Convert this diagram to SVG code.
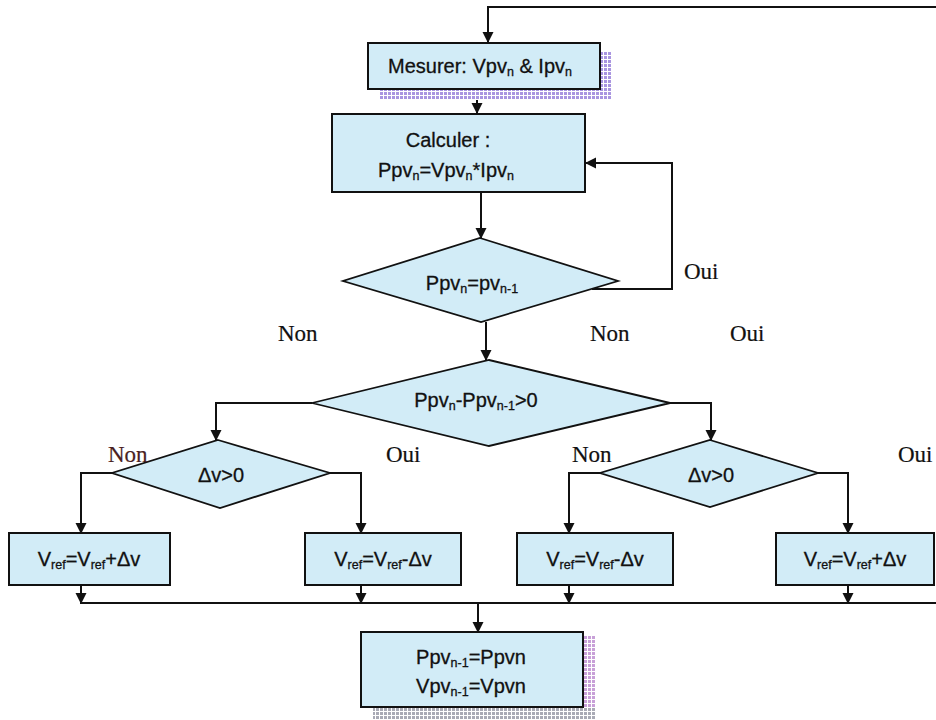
<svg xmlns="http://www.w3.org/2000/svg" width="936" height="720" viewBox="0 0 936 720">
  <style>
    .box { fill: #d2ecf7; stroke: #111; stroke-width: 2; }
    .dia { fill: #d2ecf7; stroke: #111; stroke-width: 1.8; }
    .t { font-family: "Liberation Sans", Arial, sans-serif; font-size: 20px; fill: #111; text-anchor: middle; stroke: #111; stroke-width: 0.3; }
    .lbl { font-family: "Liberation Serif", "Times New Roman", serif; font-size: 23px; fill: #111; stroke: #111; stroke-width: 0.2; }
    .lbl.red { fill: #4a1f22; stroke: #4a1f22; }
    .sub { font-size: 12.5px; }
    .wire { fill: none; stroke: #111; stroke-width: 2; }
  </style>
  <defs>
    <marker id="arr" markerWidth="12" markerHeight="12" refX="10" refY="6" orient="auto" markerUnits="userSpaceOnUse">
      <path d="M0,0.5 L11,6 L0,11.5 Z" fill="#111"/>
    </marker>
    <pattern id="gridPurple" width="4" height="4" patternUnits="userSpaceOnUse">
      <rect width="4" height="4" fill="#ffffff"/>
      <rect width="3" height="3" fill="#a995e0"/>
    </pattern>
    <pattern id="gridGrey" width="4" height="4" patternUnits="userSpaceOnUse">
      <rect width="4" height="4" fill="#ffffff"/>
      <rect width="3" height="3" fill="#a9aab5"/>
    </pattern>
    <pattern id="gridPink" width="4" height="4" patternUnits="userSpaceOnUse">
      <rect width="4" height="4" fill="#ffffff"/>
      <rect width="3" height="3" fill="#c8a0d8"/>
    </pattern>
  </defs>

  <!-- connectors -->
  <g id="connectors">
    <path class="wire" d="M936,7 H488 V42" marker-end="url(#arr)"/>
    <path class="wire" d="M477,88 V113" marker-end="url(#arr)"/>
    <path class="wire" d="M481,192 V238" marker-end="url(#arr)"/>
    <path class="wire" d="M592,289 H672 V163 H586" marker-end="url(#arr)"/>
    <path class="wire" d="M486,322 V360" marker-end="url(#arr)"/>
    <path class="wire" d="M312,403 H216 V440" marker-end="url(#arr)"/>
    <path class="wire" d="M670,403 H711 V440" marker-end="url(#arr)"/>
    <path class="wire" d="M112,473 H81 V533" marker-end="url(#arr)"/>
    <path class="wire" d="M330,473 H361 V533" marker-end="url(#arr)"/>
    <path class="wire" d="M600,473 H569 V533" marker-end="url(#arr)"/>
    <path class="wire" d="M818,473 H848 V533" marker-end="url(#arr)"/>
    <path class="wire" d="M81,585 V603" marker-end="url(#arr)"/>
    <path class="wire" d="M361,585 V603" marker-end="url(#arr)"/>
    <path class="wire" d="M569,585 V603" marker-end="url(#arr)"/>
    <path class="wire" d="M848,585 V603" marker-end="url(#arr)"/>
    <path class="wire" d="M80,603 H936"/>
    <path class="wire" d="M478,603 V632" marker-end="url(#arr)"/>
  </g>

  <!-- measurement step -->
  <g id="mesurer">
    <rect x="600" y="52" width="11" height="48" fill="url(#gridPurple)"/>
    <rect x="380" y="89" width="231" height="11" fill="url(#gridPurple)"/>
    <rect class="box" x="368" y="43" width="232" height="46"/>
    <text class="t" x="480" y="73">Mesurer: Vpv<tspan class="sub" dy="3">n</tspan><tspan dy="-3"> &amp; Ipv</tspan><tspan class="sub" dy="3">n</tspan></text>
  </g>

  <!-- power computation -->
  <g id="calculer">
    <rect class="box" x="332" y="114" width="253" height="78"/>
    <text class="t" x="448" y="147">Calculer :</text>
    <text class="t" x="446" y="177">Ppv<tspan class="sub" dy="3">n</tspan><tspan dy="-3">=Vpv</tspan><tspan class="sub" dy="3">n</tspan><tspan dy="-3">*Ipv</tspan><tspan class="sub" dy="3">n</tspan></text>
  </g>

  <!-- test: power unchanged -->
  <g id="test-egal">
    <polygon class="dia" points="480,238 618,281 481,322 343,281"/>
    <text class="t" x="472" y="290">Ppv<tspan class="sub" dy="3">n</tspan><tspan dy="-3">=pv</tspan><tspan class="sub" dy="3">n-1</tspan></text>
  </g>

  <!-- test: power increase -->
  <g id="test-dp">
    <polygon class="dia" points="489,360 670,403 489,446 312,403"/>
    <text class="t" x="476" y="407">Ppv<tspan class="sub" dy="3">n</tspan><tspan dy="-3">-Ppv</tspan><tspan class="sub" dy="3">n-1</tspan><tspan dy="-3">&gt;0</tspan></text>
  </g>

  <!-- left voltage test -->
  <g id="test-dv-gauche">
    <polygon class="dia" points="218,440 330,473 220,508 112,473"/>
    <text class="t" x="221" y="482">Δv&gt;0</text>
  </g>

  <!-- right voltage test -->
  <g id="test-dv-droite">
    <polygon class="dia" points="710,440 818,473 710,507 600,473"/>
    <text class="t" x="711" y="482">Δv&gt;0</text>
  </g>

  <!-- reference updates -->
  <g id="vref-1">
    <rect class="box" x="9" y="533" width="161" height="52"/>
    <text class="t" x="89" y="566">V<tspan class="sub" dy="3">ref</tspan><tspan dy="-3">=V</tspan><tspan class="sub" dy="3">ref</tspan><tspan dy="-3">+Δv</tspan></text>
  </g>
  <g id="vref-2">
    <rect class="box" x="305" y="533" width="156" height="52"/>
    <text class="t" x="383" y="566">V<tspan class="sub" dy="3">ref</tspan><tspan dy="-3">=V</tspan><tspan class="sub" dy="3">ref</tspan><tspan dy="-3">-Δv</tspan></text>
  </g>
  <g id="vref-3">
    <rect class="box" x="517" y="533" width="156" height="52"/>
    <text class="t" x="595" y="566">V<tspan class="sub" dy="3">ref</tspan><tspan dy="-3">=V</tspan><tspan class="sub" dy="3">ref</tspan><tspan dy="-3">-Δv</tspan></text>
  </g>
  <g id="vref-4">
    <rect class="box" x="776" y="533" width="158" height="52"/>
    <text class="t" x="855" y="566">V<tspan class="sub" dy="3">ref</tspan><tspan dy="-3">=V</tspan><tspan class="sub" dy="3">ref</tspan><tspan dy="-3">+Δv</tspan></text>
  </g>

  <!-- memory update -->
  <g id="memoriser">
    <rect x="583" y="636" width="12" height="84" fill="url(#gridPink)"/>
    <rect x="373" y="707" width="222" height="13" fill="url(#gridGrey)"/>
    <rect class="box" x="361" y="632" width="222" height="75"/>
    <text class="t" x="471" y="664">Ppv<tspan class="sub" dy="3">n-1</tspan><tspan dy="-3">=Ppvn</tspan></text>
    <text class="t" x="471" y="693">Vpv<tspan class="sub" dy="3">n-1</tspan><tspan dy="-3">=Vpvn</tspan></text>
  </g>

  <!-- branch labels -->
  <g id="labels">
    <text class="lbl" x="684" y="279">Oui</text>
    <text class="lbl" x="278" y="341">Non</text>
    <text class="lbl" x="590" y="341">Non</text>
    <text class="lbl" x="730" y="341">Oui</text>
    <text class="lbl red" x="108" y="462">Non</text>
    <text class="lbl" x="386" y="462">Oui</text>
    <text class="lbl" x="572" y="462">Non</text>
    <text class="lbl" x="898" y="462">Oui</text>
  </g>
</svg>
